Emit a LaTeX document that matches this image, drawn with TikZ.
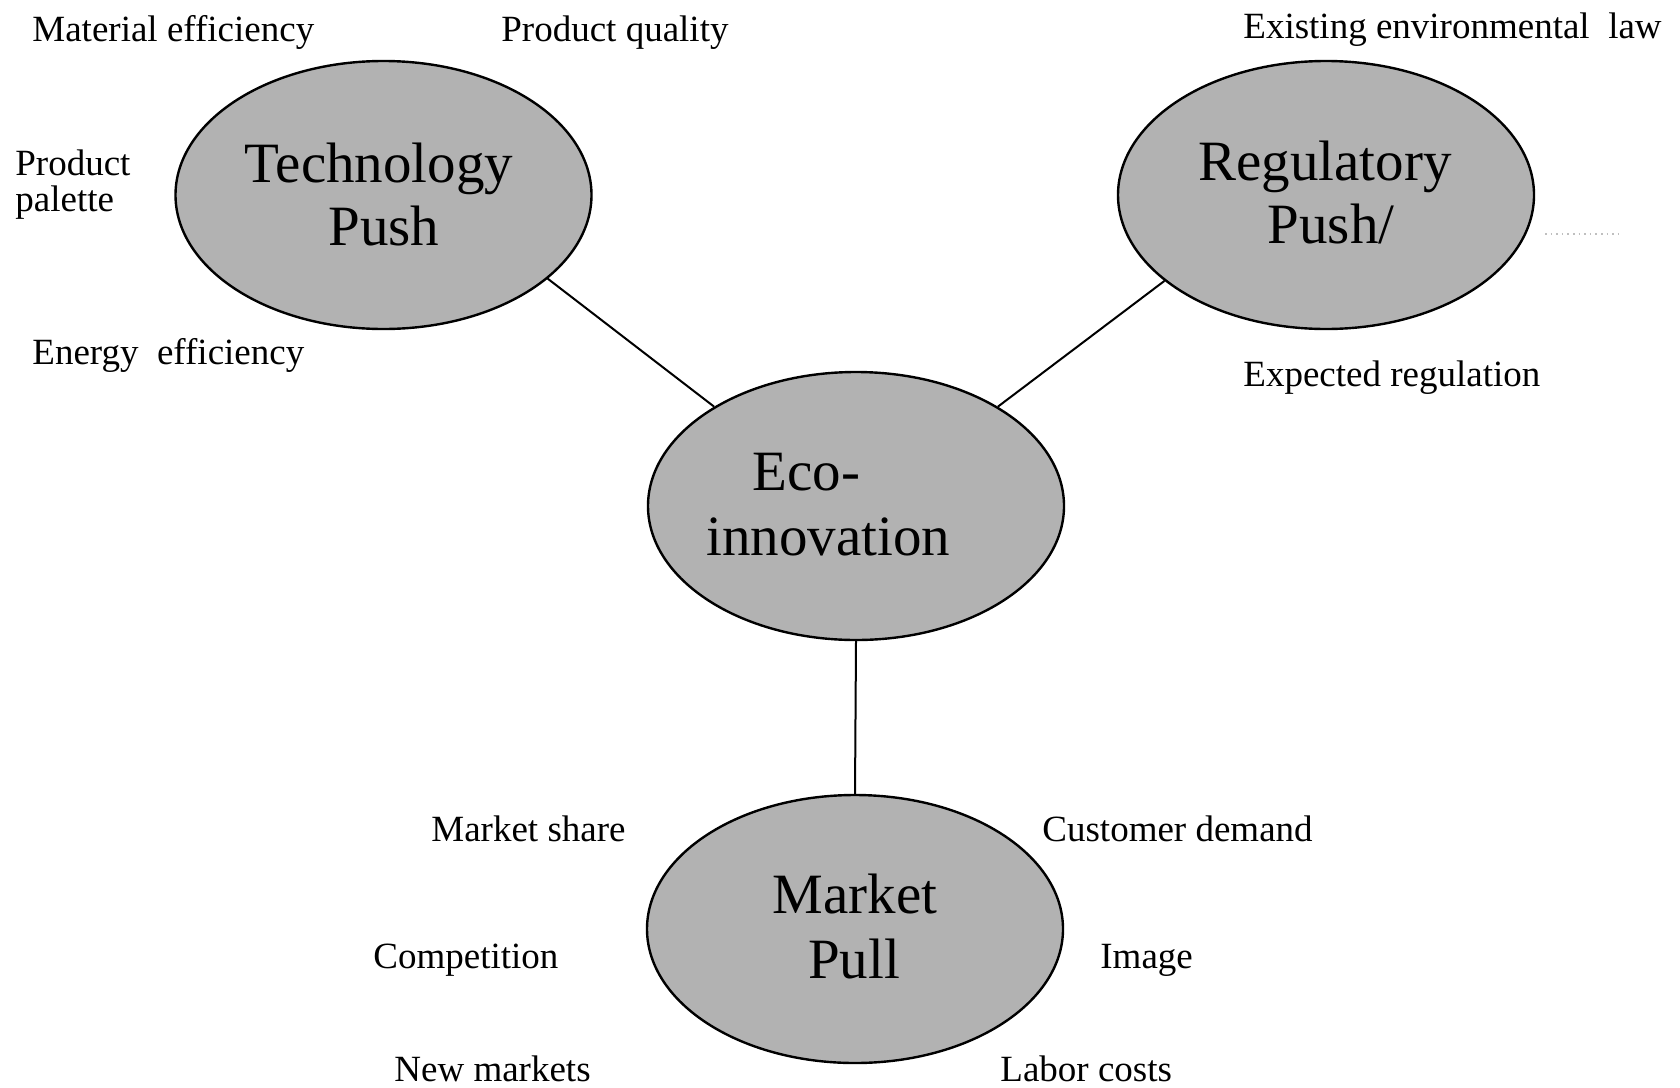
\documentclass[tikz,border=0pt]{standalone}
\usepackage{fontspec}
\setmainfont{Liberation Serif}
\usetikzlibrary{shapes.geometric}
\begin{document}
\begin{tikzpicture}[x=0.5pt,y=-0.5pt,
  bubble/.style={ellipse, draw=black, line width=1.2pt, fill=black!30, minimum width=208pt, minimum height=134pt, inner sep=0pt},
  big/.style={font=\fontsize{28.5pt}{31pt}\selectfont, inner sep=0pt, anchor=base},
  bigw/.style={big, anchor=base west},
  small/.style={font=\fontsize{18.5pt}{18pt}\selectfont, inner sep=0pt, anchor=base west, align=left},
  link/.style={line width=1pt, draw=black},
  faint/.style={draw=black!25, line width=0.8pt, dotted}]
\useasboundingbox (0,0) rectangle (1680,1087);
\fill[white] (0,0) rectangle (1680,1087);
% ellipses
\node[bubble] (tech) at (383.5,195) {};
\node[bubble] (reg) at (1326,195) {};
\node[bubble] (eco) at (856,506) {};
\node[bubble] (market) at (855,929) {};
% connectors
\draw[link] (tech.-27) -- (eco.145);
\draw[link] (reg.208.6) -- (eco.35.8);
\draw[link] (eco.south) -- (market.north);
\coordinate (fa) at (1545,234);
\coordinate (fb) at (1623,234);
\draw[faint] (fa) -- (fb);
% ellipse texts
\node[big] (t1) at (379,182) {Technology};
\node[big] (t2) at (384,245) {Push};
\node[big] (r1) at (1325,180) {Regulatory};
\node[big] (r2) at (1331,243) {Push/};
\node[bigw] (e1) at (752,490) {Eco-};
\node[bigw] (e2) at (706,555) {innovation};
\node[big] (m1) at (855,913) {Market};
\node[big] (m2) at (854,978) {Pull};
% labels
\node[small] (l1) at (32,41) {Material efficiency};
\node[small] (l2) at (501,41) {Product quality};
\node[small] (l3) at (1243,38) {Existing environmental\ \ law};
\node[small] (l4) at (15,211) {Product\\palette};
\node[small] (l5) at (32,364) {Energy\ \ efficiency};
\node[small] (l6) at (1243,386) {Expected regulation};
\node[small] (l7) at (431,841) {Market share};
\node[small] (l8) at (1042,841) {Customer demand};
\node[small] (l9) at (373,968) {Competition};
\node[small] (l10) at (1100,968) {Image};
\node[small] (l11) at (394,1081) {New markets};
\node[small] (l12) at (1000,1081) {Labor costs};
\end{tikzpicture}
\end{document}
